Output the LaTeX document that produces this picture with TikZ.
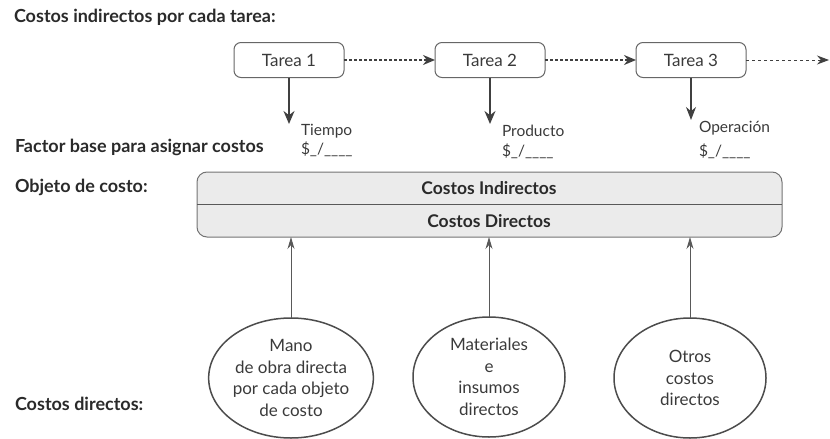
\documentclass[tikz,border=0pt]{standalone}
\usepackage{fontspec}
\setmainfont{Lato}
\usetikzlibrary{arrows.meta,shapes.geometric}
\definecolor{ink}{HTML}{2A2A2A}
\definecolor{txt}{HTML}{3A3A3A}
\definecolor{arr}{HTML}{404040}
\begin{document}
\begin{tikzpicture}[x=1pt,y=-1pt,
  every node/.style={inner sep=0pt, outer sep=0pt},
  lab/.style={font=\bfseries\fontsize{18}{20}\selectfont, text=ink, anchor=west},
  tarea/.style={draw=black!60, line width=1pt, rounded corners=7pt, minimum width=110pt, minimum height=35pt, font=\fontsize{17}{19}\selectfont, text=txt},
  small/.style={font=\fontsize{15.5}{17}\selectfont, text=txt, anchor=west},
  dotarrow/.style={draw=arr, line width=1.8pt, dash pattern=on 2.5pt off 2.5pt, -{Stealth[length=12pt,width=10pt]}},
  dasharrow/.style={draw=arr, line width=1pt, dash pattern=on 3pt off 3pt, -{Stealth[length=12pt,width=9pt]}},
  downarrow/.style={draw=arr, line width=1.8pt, -{Stealth[length=13pt,width=11pt]}},
  downthin/.style={draw=arr, line width=1.1pt, -{Stealth[length=13pt,width=10pt]}},
  uparrow/.style={draw=black!65, line width=1pt, -{Stealth[length=12pt,width=7pt]}},
  objbox/.style={draw=black!55, fill=black!8, rounded corners=10pt, line width=1pt, minimum width=585pt, minimum height=65pt},
  boxtxt/.style={font=\bfseries\fontsize{17.5}{19}\selectfont, text=ink},
  ell/.style={ellipse, draw=black!70, line width=1.5pt, minimum width=152pt, minimum height=120pt, inner sep=0pt, align=center, font=\fontsize{17}{21.5}\selectfont, text=txt}
]
\useasboundingbox (0,0) rectangle (830,439);

\node[lab] (title) at (14,17) {Costos indirectos por cada tarea:};
\node[tarea] (t1) at (289,60) {Tarea 1};
\node[tarea] (t2) at (490,60) {Tarea 2};
\node[tarea] (t3) at (691,60) {Tarea 3};
\coordinate (tend) at (829,60);
\draw[dotarrow] (t1) -- (t2);
\draw[dotarrow] (t2) -- (t3);
\draw[dasharrow] (t3) -- (tend);

\coordinate (f1) at (289,124);
\coordinate (f2) at (490,124);
\coordinate (f3) at (691,120);
\draw[downarrow] (t1.south) -- (f1);
\draw[downarrow] (t2.south) -- (f2);
\draw[downthin] (t3.south) -- (f3);

\node[small] (tiempo) at (301,131) {Tiempo};
\node[small] (tiempod) at (301,149) {\$\_/\_\_\_\_};
\node[small] (prod) at (502,131) {Producto};
\node[small] (prodd) at (502,151) {\$\_/\_\_\_\_};
\node[small] (oper) at (699,128) {Operación};
\node[small] (operd) at (699,151) {\$\_/\_\_\_\_};

\node[lab] (factor) at (15,147) {Factor base para asignar costos};
\node[lab] (objeto) at (15,187) {Objeto de costo:};
\node[lab] (cdir) at (15,404) {Costos directos:};

\node[objbox] (obj) at (489.5,204.5) {};
\draw[draw=black!65, line width=1pt] (obj.west) -- (obj.east);
\node[boxtxt] (ci) at (489,188) {Costos Indirectos};
\node[boxtxt] (cd) at (489,221) {Costos Directos};

\node[ell] (e1) at (291,378) {Mano\\de obra directa\\por cada objeto\\de costo};
\node[ell] (e2) at (489,377) {Materiales\\e\\insumos\\directos};
\node[ell] (e3) at (690,378) {Otros\\costos\\directos};

\draw[uparrow] (e1.north) -- (e1.north |- obj.south);
\draw[uparrow] (e2.north) -- (e2.north |- obj.south);
\draw[uparrow] (e3.north) -- (e3.north |- obj.south);
\end{tikzpicture}
\end{document}
